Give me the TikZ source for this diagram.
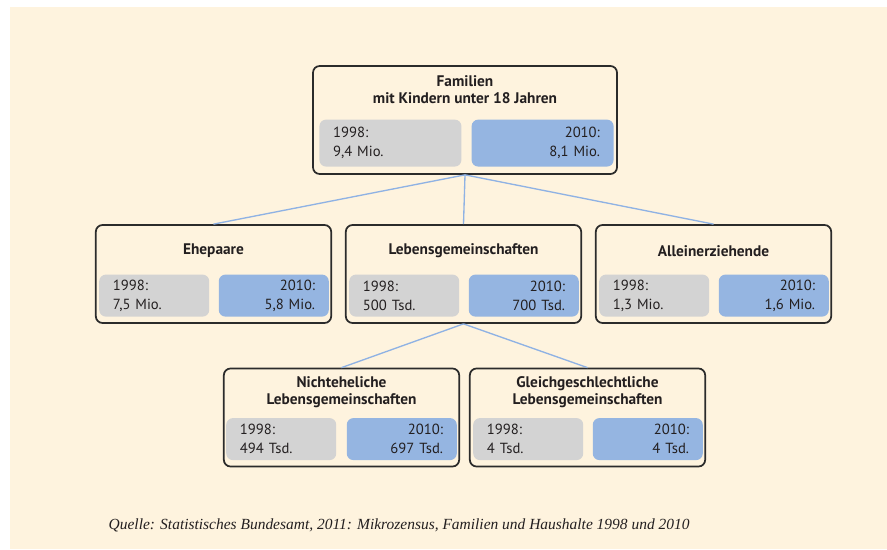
\documentclass[tikz,border=0pt]{standalone}
\usepackage{fontspec}
\setmainfont{PT Sans}
\newfontfamily\quellefont{Liberation Serif}
\usetikzlibrary{positioning}

\definecolor{cream}{HTML}{FEF3DE}
\definecolor{boxline}{HTML}{2B2B2B}
\definecolor{oldgray}{HTML}{D3D3D3}
\definecolor{newblue}{HTML}{95B5E1}
\definecolor{linkblue}{HTML}{8FB2E4}
\definecolor{ink}{HTML}{231F20}

\tikzset{
  panel/.style={draw=boxline, line width=1.3pt, rounded corners=5pt, fill=cream},
  bigpanel/.style={panel, minimum width=228pt, minimum height=81pt},
  smallpanel/.style={panel, minimum width=176.5pt, minimum height=73.5pt},
  paneltitle/.style={font=\bfseries\fontsize{11.5}{13}\selectfont, align=center, text=ink},
  valbox/.style={rounded corners=5pt, minimum width=82.5pt, minimum height=31.5pt,
    text width=62pt, inner xsep=10pt, font=\fontsize{11}{14.2}\selectfont, text=ink},
  oldval/.style={valbox, fill=oldgray, align=left, anchor=south west},
  newval/.style={valbox, fill=newblue, align=right, anchor=south east},
  bigval/.style={minimum width=106.5pt, minimum height=35.25pt, text width=86pt},
  link/.style={draw=linkblue, line width=1pt}
}

\begin{document}
\begin{tikzpicture}[x=0.75pt, y=-0.75pt]
  \useasboundingbox (0,0) rectangle (887,549);
  % background sheet
  \fill[cream] (10,7) rectangle (887,549);

  % panels
  \node[bigpanel] (fam) at (465,120) {};
  \node[smallpanel] (ehe) at (213.5,274) {};
  \node[smallpanel] (leb) at (463.5,274) {};
  \node[smallpanel] (allein) at (713.5,274) {};
  \node[smallpanel] (nicht) at (341.5,417.5) {};
  \node[smallpanel] (gleich) at (587.5,417.5) {};

  % connectors
  \draw[link] (fam.south) -- (ehe.north);
  \draw[link] (fam.south) -- (leb.north);
  \draw[link] (fam.south) -- (allein.north);
  \draw[link] (leb.south) -- (nicht.north);
  \draw[link] (leb.south) -- (gleich.north);

  % titles
  \node[paneltitle] (famtitle) at ([shift={(0,24.5)}]fam.north) {Familien\\mit Kindern unter 18 Jahren};
  \node[paneltitle] (ehetitle) at ([shift={(0,27)}]ehe.north) {Ehepaare};
  \node[paneltitle] (lebtitle) at ([shift={(0,27)}]leb.north) {Lebensgemeinschaften};
  \node[paneltitle] (alleintitle) at ([shift={(0,27)}]allein.north) {Alleinerziehende};
  \node[paneltitle] (nichttitle) at ([shift={(0,24.5)}]nicht.north) {Nichteheliche\\Lebensgemeinschaften};
  \node[paneltitle] (gleichtitle) at ([shift={(0,24.5)}]gleich.north) {Gleichgeschlechtliche\\Lebensgemeinschaften};

  % values 1998 / 2010
  \node[oldval, bigval] (famold) at ([shift={(7,-8)}]fam.south west) {1998:\\9,4 Mio.};
  \node[newval, bigval] (famnew) at ([shift={(-4,-8)}]fam.south east) {2010:\\8,1 Mio.};
  \node[oldval] (eheold) at ([shift={(4,-7)}]ehe.south west) {1998:\\7,5 Mio.};
  \node[newval] (ehenew) at ([shift={(-3,-7)}]ehe.south east) {2010:\\5,8 Mio.};
  \node[oldval] (lebold) at ([shift={(4,-7)}]leb.south west) {1998:\\500 Tsd.};
  \node[newval] (lebnew) at ([shift={(-3,-7)}]leb.south east) {2010:\\700 Tsd.};
  \node[oldval] (alleinold) at ([shift={(4,-7)}]allein.south west) {1998:\\1,3 Mio.};
  \node[newval] (alleinnew) at ([shift={(-3,-7)}]allein.south east) {2010:\\1,6 Mio.};
  \node[oldval] (nichtold) at ([shift={(3,-7)}]nicht.south west) {1998:\\494 Tsd.};
  \node[newval] (nichtnew) at ([shift={(-3,-7)}]nicht.south east) {2010:\\697 Tsd.};
  \node[oldval] (gleichold) at ([shift={(4,-7)}]gleich.south west) {1998:\\4 Tsd.};
  \node[newval] (gleichnew) at ([shift={(-3,-7)}]gleich.south east) {2010:\\4 Tsd.};

  % source
  \node[anchor=west, text=ink, font=\quellefont\itshape\fontsize{11.6}{13}\selectfont] (quelle) at (104,525)
    {Quelle: Statistisches Bundesamt, 2011: Mikrozensus, Familien und Haushalte 1998 und 2010};
\end{tikzpicture}
\end{document}
